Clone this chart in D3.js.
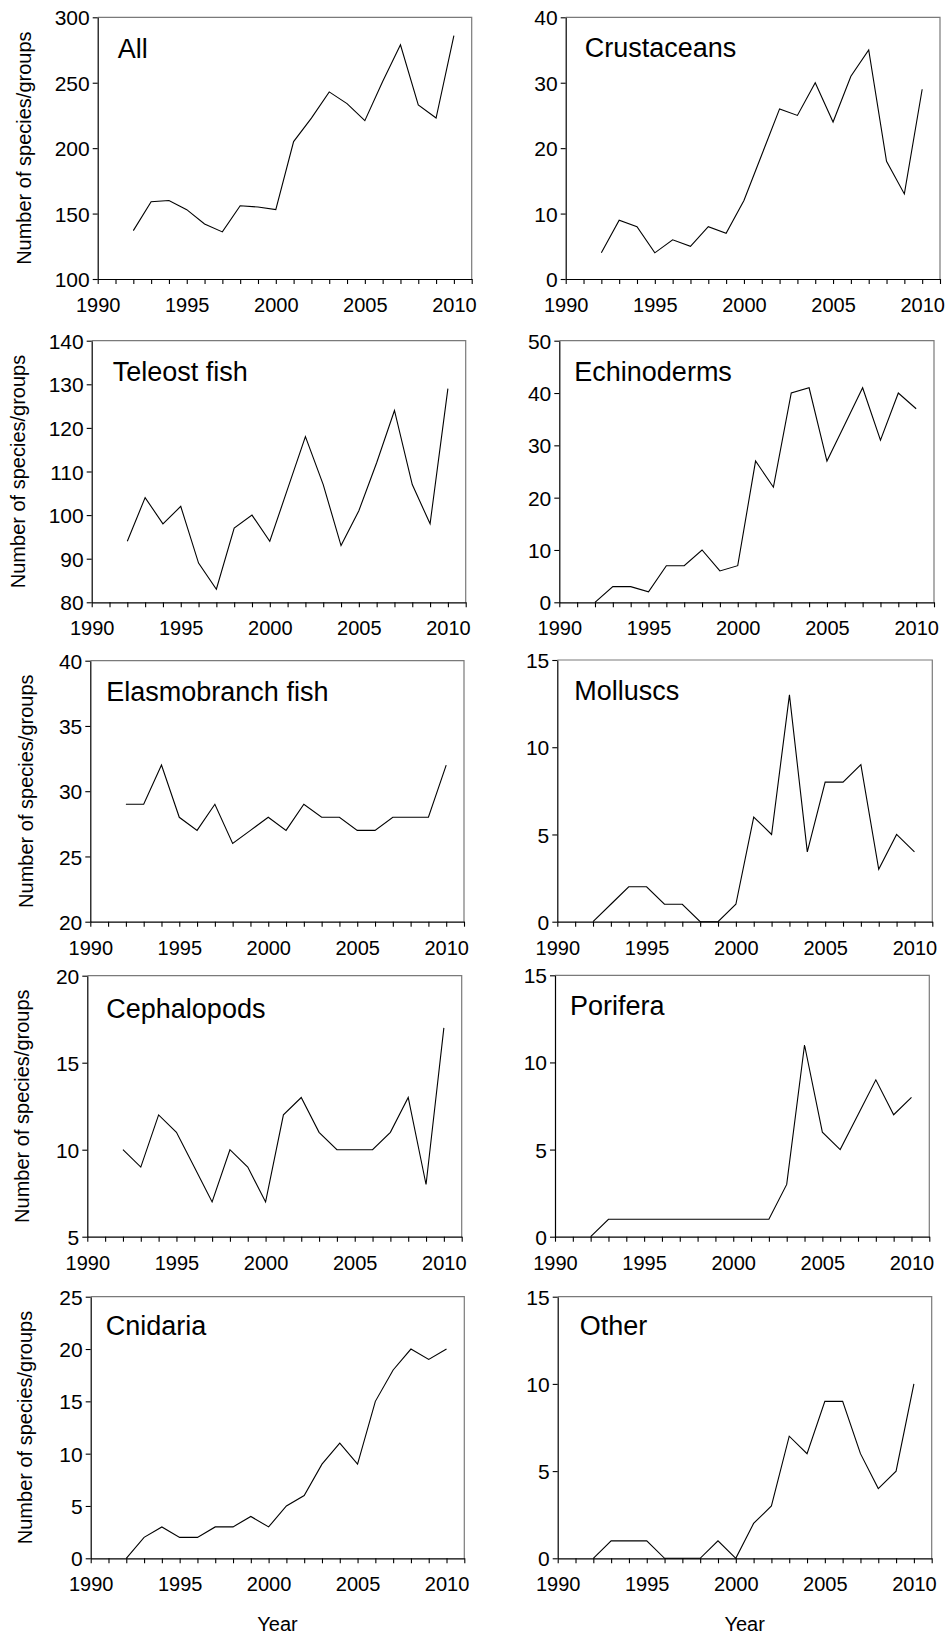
<!DOCTYPE html>
<html>
<head>
<meta charset="utf-8">
<script src="https://cdn.jsdelivr.net/npm/d3@7"></script>
<style>
  html, body { margin: 0; padding: 0; background: #fff; }
  svg { display: block; font-family: "Liberation Sans", Arial, sans-serif; }
</style>
</head>
<body>
<svg id="chart" width="945" height="1635"></svg>
<script>
// ---- data ----
const years = [1992,1993,1994,1995,1996,1997,1998,1999,2000,2001,2002,2003,2004,2005,2006,2007,2008,2009,2010];
const allGroups    = [137,159,160,153,142,136,156,155,153,205,223,243,234,221,251,279,233,223,286];
const crustaceans  = [4,9,8,4,6,5,8,7,12,19,26,25,30,24,31,35,18,13,29];
const teleostFish  = [94,104,98,102,89,83,97,100,94,106,118,107,93,101,112,124,107,98,129];
const echinoderms  = [0,3,3,2,7,7,10,6,7,27,22,40,41,27,34,41,31,40,37];
const elasmobranch = [29,29,32,28,27,29,26,27,28,27,29,28,28,27,27,28,28,28,32];
const molluscs     = [0,1,2,2,1,1,0,0,1,6,5,13,4,8,8,9,3,5,4];
const cephalopods  = [10,9,12,11,9,7,10,9,7,12,13,11,10,10,10,11,13,8,17];
const porifera     = [0,1,1,1,1,1,1,1,1,1,1,3,11,6,5,7,9,7,8];
const cnidaria     = [0,2,3,2,2,3,3,4,3,5,6,9,11,9,15,18,20,19,20];
const otherGroups  = [0,1,1,1,0,0,0,1,0,2,3,7,6,9,9,6,4,5,10];

const titles = ["All","Crustaceans","Teleost fish","Echinoderms","Elasmobranch fish","Molluscs","Cephalopods","Porifera","Cnidaria","Other"];
const seriesList = [allGroups, crustaceans, teleostFish, echinoderms, elasmobranch, molluscs, cephalopods, porifera, cnidaria, otherGroups];
const yMins  = [100, 0, 80, 0, 20, 0, 5, 0, 0, 0];
const yMaxs  = [300, 40, 140, 50, 40, 15, 20, 15, 25, 15];
const ySteps = [50, 10, 10, 10, 5, 5, 5, 5, 5, 5];
const xMajorTicks = [1990, 1995, 2000, 2005, 2010];
const xDomain = [1990, 2011];
const yLabelText = "Number of species/groups";
const xLabelText = "Year";

// ---- layout (pixel boxes of each panel) ----
const boxes = [
  {l: 97.7, t: 17.3, r: 471.7, b: 279,    tx: 20, ty: 41, lx: 25},
  {l: 565.7,t: 17.3, r: 940,   b: 279,    tx: 19, ty: 40},
  {l: 91.7, t: 340.7,r: 465.7, b: 602.3,  tx: 21, ty: 40, lx: 18.5},
  {l: 559.3,t: 340.7,r: 934,   b: 602.3,  tx: 15, ty: 40},
  {l: 90.3, t: 660.7,r: 464,   b: 921.7,  tx: 16, ty: 40, lx: 26.5},
  {l: 557.3,t: 660,  r: 932.3, b: 921.7,  tx: 17, ty: 39.5},
  {l: 87.3, t: 975.7,r: 461.7, b: 1236.7, tx: 19, ty: 42, lx: 22.5},
  {l: 555,  t: 975.3,r: 929.3, b: 1236.7, tx: 15, ty: 40},
  {l: 90.7, t: 1296.7,r: 464.3,b: 1558.3, tx: 15, ty: 38.5, lx: 25.5},
  {l: 557.7,t: 1296.7,r: 931.7,b: 1558.3, tx: 22, ty: 38.5}
];

const svg = d3.select("#chart");
const xMinor = d3.range(xDomain[0], xDomain[1] + 1);

boxes.forEach((bx, i) => {
  const x = d3.scaleLinear().domain(xDomain).range([bx.l, bx.r]);
  const y = d3.scaleLinear().domain([yMins[i], yMaxs[i]]).range([bx.b, bx.t]);
  const g = svg.append("g");

  // top & right frame (grey)
  g.append("path")
    .attr("d", `M${bx.l},${bx.t}H${bx.r}V${bx.b}`)
    .attr("fill", "none").attr("stroke", "#7a7a7a").attr("stroke-width", 1.2);

  // x axis
  const xa = g.append("g").attr("transform", `translate(0,${bx.b})`)
    .call(d3.axisBottom(x).tickValues(xMinor).tickSize(5).tickSizeOuter(0)
      .tickFormat(d => xMajorTicks.includes(d) ? d3.format("d")(d) : ""));
  xa.select(".domain").attr("stroke", "#000").attr("stroke-width", 1.2);
  xa.selectAll(".tick line").attr("stroke", "#000").attr("stroke-width", 1.1);
  xa.selectAll(".tick text").attr("font-size", 20).attr("font-family", "Liberation Sans, Arial, sans-serif")
    .attr("fill", "#000").attr("dy", 0).attr("y", 33);

  // y axis
  const yTicks = d3.range(yMins[i], yMaxs[i] + ySteps[i] / 2, ySteps[i]);
  const ya = g.append("g").attr("transform", `translate(${bx.l},0)`)
    .call(d3.axisLeft(y).tickValues(yTicks).tickSize(5).tickSizeOuter(0).tickFormat(d3.format("d")));
  ya.select(".domain").attr("stroke", "#000").attr("stroke-width", 1.2);
  ya.selectAll(".tick line").attr("stroke", "#000").attr("stroke-width", 1.1);
  ya.selectAll(".tick text").attr("font-size", 21).attr("font-family", "Liberation Sans, Arial, sans-serif")
    .attr("fill", "#000").attr("x", -8).attr("dy", "0.36em");

  // series line
  const line = d3.line().x((d, k) => x(years[k])).y(d => y(d));
  g.append("path").datum(seriesList[i])
    .attr("d", line).attr("fill", "none").attr("stroke", "#000").attr("stroke-width", 1.1)
    .attr("stroke-linejoin", "miter");

  // panel title
  g.append("text").attr("x", bx.l + bx.tx).attr("y", bx.t + bx.ty)
    .attr("font-size", 27).attr("fill", "#000").text(titles[i]);

  // y label (left column)
  if (bx.lx !== undefined) {
    const cy = (bx.t + bx.b) / 2;
    g.append("text").attr("transform", `translate(${bx.lx + 6},${cy}) rotate(-90)`)
      .attr("text-anchor", "middle").attr("font-size", 20).attr("fill", "#000").text(yLabelText);
  }
  // x label (bottom row)
  if (i >= 8) {
    g.append("text").attr("x", (bx.l + bx.r) / 2).attr("y", bx.b + 73)
      .attr("text-anchor", "middle").attr("font-size", 20).attr("fill", "#000").text(xLabelText);
  }
});
</script>
</body>
</html>
